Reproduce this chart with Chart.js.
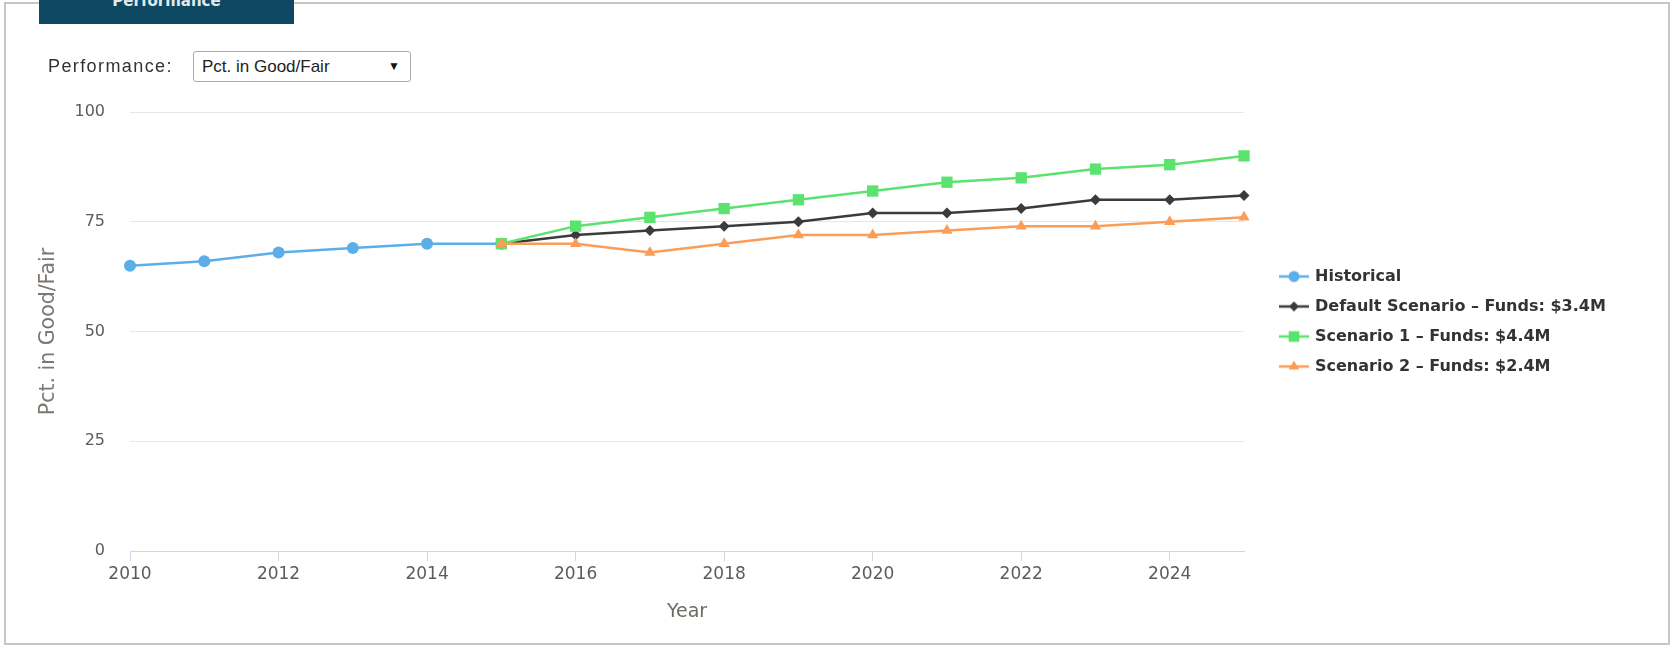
<!DOCTYPE html>
<html>
<head>
<meta charset="utf-8">
<title>Performance</title>
<script src="https://cdn.jsdelivr.net/npm/chart.js@4.4.1/dist/chart.umd.min.js"></script>
<style>
  body { margin: 0; background: #fff; }
  #wrap { position: relative; width: 1672px; height: 648px; overflow: hidden; font-family: 'Liberation Sans', Arial, sans-serif; }
  #frame { position: absolute; left: 4px; top: 2px; width: 1666px; height: 643px; border: 2px solid #c6c6c6; box-sizing: border-box; }
  #tab { position: absolute; left: 39px; top: 0; width: 255px; height: 24px; background: #0f4862; color: #e2eaf0;
         font: bold 15px 'DejaVu Sans', sans-serif; text-align: center; line-height: 2px; overflow: hidden; }
  #perfLabel { position: absolute; left: 48px; top: 55px; font-size: 18px; letter-spacing: 1.4px; color: #333; line-height: 22px; }
  #perfSelect { position: absolute; left: 193px; top: 51px; width: 218px; height: 31px; box-sizing: border-box;
                border: 1px solid #aaa; border-radius: 3px; background: #fff; font-size: 17px; color: #222;
                line-height: 29px; padding-left: 8px; }
  #perfSelect span { position: absolute; right: 10px; top: 0; font-size: 12px; color: #111; }
  #chartBox { position: absolute; left: 0; top: 0; width: 1672px; height: 648px; }
</style>
</head>
<body>
<div id="wrap">
  <div id="frame"></div>
  <div id="chartBox"><canvas id="perfChart" width="1672" height="648"></canvas></div>
  <div id="tab">Performance</div>
  <div id="perfLabel">Performance:</div>
  <div id="perfSelect">Pct. in Good/Fair<span>&#9660;</span></div>
</div>
<script>
// values
const histYears = [2010, 2011, 2012, 2013, 2014, 2015];
const histValues = [65, 66, 68, 69, 70, 70];
const scenarioYears = [2015, 2016, 2017, 2018, 2019, 2020, 2021, 2022, 2023, 2024, 2025];
const defaultValues = [70, 72, 73, 74, 75, 77, 77, 78, 80, 80, 81];
const scenario1Values = [70, 74, 76, 78, 80, 82, 84, 85, 87, 88, 90];
const scenario2Values = [70, 70, 68, 70, 72, 72, 73, 74, 74, 75, 76];
const seriesNames = ['Historical', 'Default Scenario \u2013 Funds: $3.4M', 'Scenario 1 \u2013 Funds: $4.4M', 'Scenario 2 \u2013 Funds: $2.4M'];
const xTicks = [2010, 2012, 2014, 2016, 2018, 2020, 2022, 2024];
const yTicks = [0, 25, 50, 75, 100];

const colors = ['#5caee8', '#3b3b3e', '#5ce26f', '#fb9d57'];
const shapes = ['circle', 'rectRot', 'rect', 'triangle'];
const radii = [6, 5.5, 8, 6.5];

Chart.defaults.font.family = "'DejaVu Sans', sans-serif";

function toPoints(xs, ys) {
  return xs.map((x, i) => ({ x: x, y: ys[i] }));
}

// little line + marker icon for the legend, like the original
function legendIcon(i) {
  const c = document.createElement('canvas');
  c.width = 30; c.height = 16;
  const ctx = c.getContext('2d');
  ctx.strokeStyle = colors[i];
  ctx.lineWidth = 2.5;
  ctx.beginPath(); ctx.moveTo(0, 8); ctx.lineTo(30, 8); ctx.stroke();
  ctx.fillStyle = colors[i];
  Chart.helpers.drawPoint(ctx, { pointStyle: shapes[i], radius: radii[i] - 0.5, rotation: 0, borderWidth: 0 }, 15, 8);
  return c;
}
const icons = [0, 1, 2, 3].map(legendIcon);

// push the legend a bit off the plot and up, the way the original sits
const legendShift = {
  id: 'legendShift',
  afterLayout(chart) {
    const lg = chart.legend;
    lg.left += 23;
    lg.right = chart.width;
    lg.top -= 46; lg.bottom -= 46;
  }
};

function series(i, xs, ys, order) {
  return {
    label: seriesNames[i],
    data: toPoints(xs, ys),
    borderColor: colors[i],
    backgroundColor: colors[i],
    borderWidth: 2.5,
    pointStyle: shapes[i],
    pointRadius: radii[i],
    pointBorderWidth: 0,
    pointHoverRadius: radii[i],
    tension: 0,
    clip: false,
    order: order
  };
}

new Chart(document.getElementById('perfChart'), {
  type: 'line',
  data: {
    datasets: [
      series(0, histYears, histValues, 4),
      series(1, scenarioYears, defaultValues, 3),
      series(2, scenarioYears, scenario1Values, 2),
      series(3, scenarioYears, scenario2Values, 1)
    ]
  },
  options: {
    responsive: false,
    animation: false,
    devicePixelRatio: 1,
    layout: { padding: { left: 36, top: 112, right: 88, bottom: 25 } },
    plugins: {
      tooltip: { enabled: false },
      legend: {
        position: 'right',
        maxWidth: 340,
        labels: {
          usePointStyle: true,
          pointStyleWidth: 26,
          padding: 14,
          color: '#333',
          font: { size: 16, weight: 'bold' },
          sort: (a, b) => a.datasetIndex - b.datasetIndex,
          generateLabels(chart) {
            return Chart.defaults.plugins.legend.labels.generateLabels(chart).map(item => {
              item.pointStyle = icons[item.datasetIndex];
              return item;
            });
          }
        }
      }
    },
    scales: {
      x: {
        type: 'linear',
        min: 2010,
        max: 2025,
        afterBuildTicks: s => { s.ticks = xTicks.map(v => ({ value: v })); },
        afterFit: s => { s.height = 72; },
        ticks: { color: '#5f5b57', font: { size: 17 }, padding: 3, callback: v => String(v), maxRotation: 0 },
        grid: { drawOnChartArea: false, drawTicks: true, tickLength: 10, color: '#ccd6eb' },
        border: { color: '#ccd6eb', width: 1 },
        title: { display: true, text: 'Year', color: '#6f6a65', font: { size: 19 }, padding: 0 }
      },
      y: {
        min: 0,
        max: 100,
        afterBuildTicks: s => { s.ticks = yTicks.map(v => ({ value: v })); },
        afterFit: s => { s.width = 94; },
        ticks: { color: '#5f5b57', font: { size: 16 }, padding: 25 },
        grid: { color: '#e6e6e6', drawTicks: false },
        border: { display: false },
        title: { display: true, text: 'Pct. in Good/Fair', color: '#7d7771', font: { size: 20.5 }, padding: 0 }
      }
    }
  },
  plugins: [legendShift]
});
</script>
</body>
</html>
